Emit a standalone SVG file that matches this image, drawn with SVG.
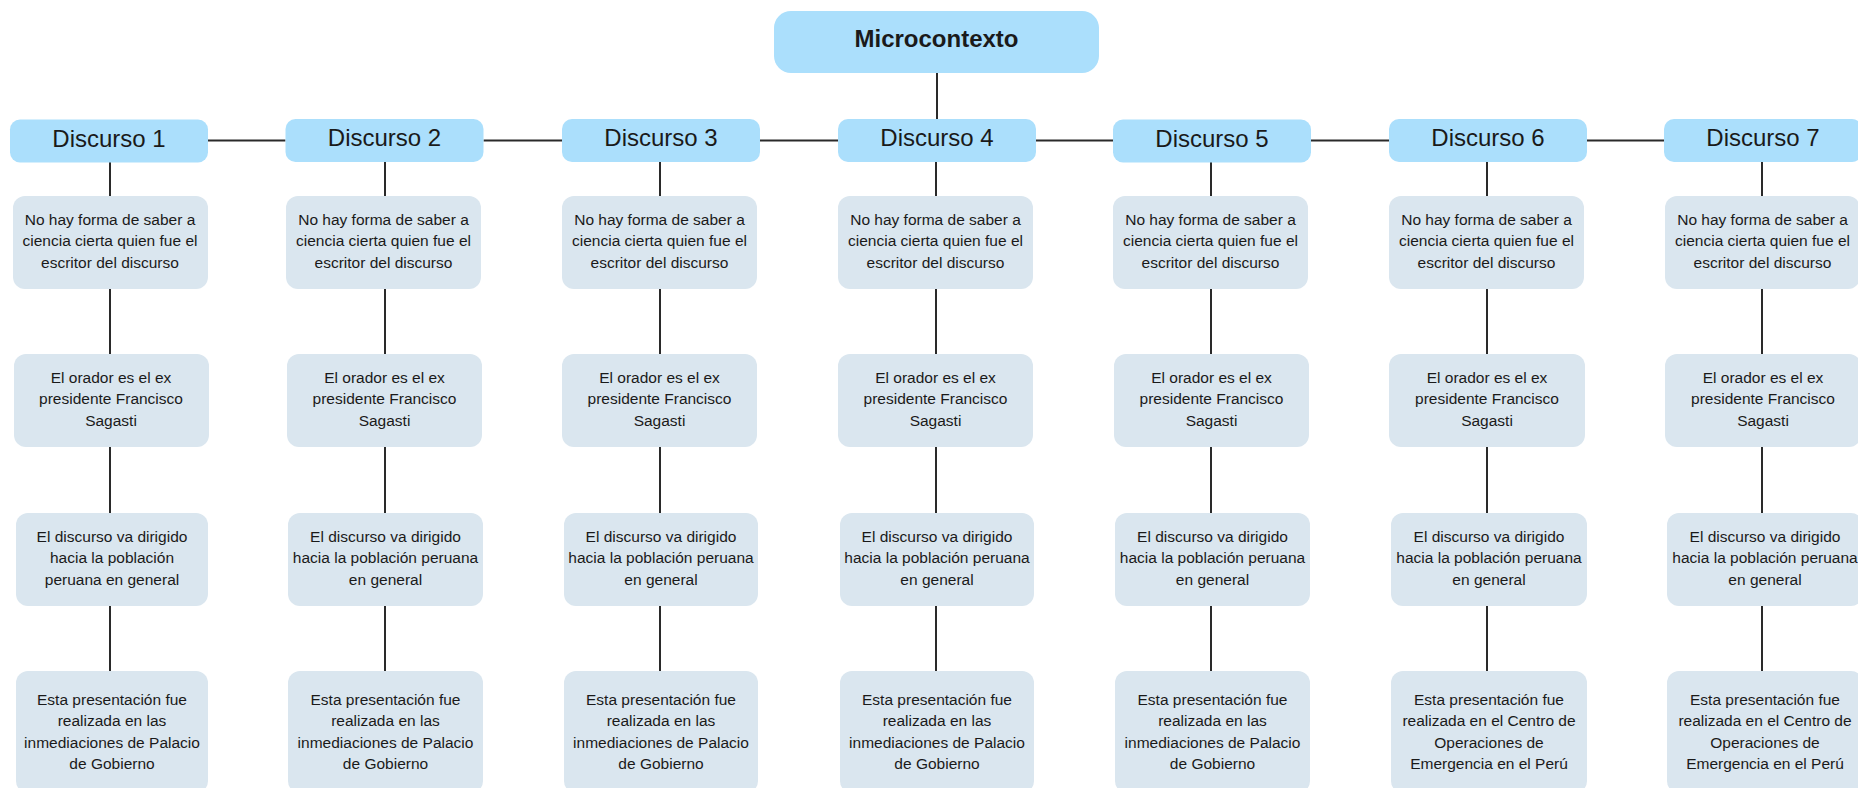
<svg xmlns="http://www.w3.org/2000/svg" width="1858" height="788" viewBox="0 0 1858 788">
<style>
.hd{fill:#abdffc;}
.bx{fill:#dae6ef;}
.t{font-family:"Liberation Sans",Arial,sans-serif;fill:#1a1a1a;text-anchor:middle;}
.h{font-size:24px;}
.m{font-size:24px;font-weight:bold;}
.s{font-size:15.5px;}
.c line{stroke:#2a2a2a;stroke-width:2;}
</style>
<rect width="1858" height="788" fill="#ffffff"/>
<g class="c" id="connectors">
<line x1="937" y1="73" x2="937" y2="119"/>
<line x1="208" y1="140.5" x2="285.5" y2="140.5"/>
<line x1="483.5" y1="140.5" x2="562" y2="140.5"/>
<line x1="760" y1="140.5" x2="838" y2="140.5"/>
<line x1="1036" y1="140.5" x2="1113" y2="140.5"/>
<line x1="1311" y1="140.5" x2="1389" y2="140.5"/>
<line x1="1587" y1="140.5" x2="1664" y2="140.5"/>
<line x1="110" y1="162" x2="110" y2="671"/>
<line x1="385" y1="162" x2="385" y2="671"/>
<line x1="660" y1="162" x2="660" y2="671"/>
<line x1="936" y1="162" x2="936" y2="671"/>
<line x1="1211" y1="162" x2="1211" y2="671"/>
<line x1="1487" y1="162" x2="1487" y2="671"/>
<line x1="1762" y1="162" x2="1762" y2="671"/>
</g>
<g id="micro"><rect class="hd" x="774" y="11" width="325" height="62" rx="17"/><text class="t m" x="936.5" y="47">Microcontexto</text></g>

<g id="d1"><rect class="hd" x="10" y="119.5" width="198" height="43" rx="10"/><text class="t h" x="109" y="146.5">Discurso 1</text></g>
<g id="d2"><rect class="hd" x="285.5" y="119" width="198" height="43" rx="10"/><text class="t h" x="384.5" y="146">Discurso 2</text></g>
<g id="d3"><rect class="hd" x="562" y="119" width="198" height="43" rx="10"/><text class="t h" x="661" y="146">Discurso 3</text></g>
<g id="d4"><rect class="hd" x="838" y="119" width="198" height="43" rx="10"/><text class="t h" x="937" y="146">Discurso 4</text></g>
<g id="d5"><rect class="hd" x="1113" y="119.5" width="198" height="43" rx="10"/><text class="t h" x="1212" y="146.5">Discurso 5</text></g>
<g id="d6"><rect class="hd" x="1389" y="119" width="198" height="43" rx="10"/><text class="t h" x="1488" y="146">Discurso 6</text></g>
<g id="d7"><rect class="hd" x="1664" y="119" width="198" height="43" rx="10"/><text class="t h" x="1763" y="146">Discurso 7</text></g>

<g id="a1"><rect class="bx" x="13" y="196" width="195" height="93" rx="12"/><text class="t s"><tspan x="110" y="224.5">No hay forma de saber a</tspan><tspan x="110" y="246">ciencia cierta quien fue el</tspan><tspan x="110" y="267.5">escritor del discurso</tspan></text></g>
<g id="a2"><rect class="bx" x="286" y="196" width="195" height="93" rx="12"/><text class="t s"><tspan x="383.5" y="224.5">No hay forma de saber a</tspan><tspan x="383.5" y="246">ciencia cierta quien fue el</tspan><tspan x="383.5" y="267.5">escritor del discurso</tspan></text></g>
<g id="a3"><rect class="bx" x="562" y="196" width="195" height="93" rx="12"/><text class="t s"><tspan x="659.5" y="224.5">No hay forma de saber a</tspan><tspan x="659.5" y="246">ciencia cierta quien fue el</tspan><tspan x="659.5" y="267.5">escritor del discurso</tspan></text></g>
<g id="a4"><rect class="bx" x="838" y="196" width="195" height="93" rx="12"/><text class="t s"><tspan x="935.5" y="224.5">No hay forma de saber a</tspan><tspan x="935.5" y="246">ciencia cierta quien fue el</tspan><tspan x="935.5" y="267.5">escritor del discurso</tspan></text></g>
<g id="a5"><rect class="bx" x="1113" y="196" width="195" height="93" rx="12"/><text class="t s"><tspan x="1210.5" y="224.5">No hay forma de saber a</tspan><tspan x="1210.5" y="246">ciencia cierta quien fue el</tspan><tspan x="1210.5" y="267.5">escritor del discurso</tspan></text></g>
<g id="a6"><rect class="bx" x="1389" y="196" width="195" height="93" rx="12"/><text class="t s"><tspan x="1486.5" y="224.5">No hay forma de saber a</tspan><tspan x="1486.5" y="246">ciencia cierta quien fue el</tspan><tspan x="1486.5" y="267.5">escritor del discurso</tspan></text></g>
<g id="a7"><rect class="bx" x="1665" y="196" width="195" height="93" rx="12"/><text class="t s"><tspan x="1762.5" y="224.5">No hay forma de saber a</tspan><tspan x="1762.5" y="246">ciencia cierta quien fue el</tspan><tspan x="1762.5" y="267.5">escritor del discurso</tspan></text></g>

<g id="b1"><rect class="bx" x="14" y="354" width="195" height="93" rx="12"/><text class="t s"><tspan x="111" y="382.5">El orador es el ex</tspan><tspan x="111" y="404">presidente Francisco</tspan><tspan x="111" y="425.5">Sagasti</tspan></text></g>
<g id="b2"><rect class="bx" x="287" y="354" width="195" height="93" rx="12"/><text class="t s"><tspan x="384.5" y="382.5">El orador es el ex</tspan><tspan x="384.5" y="404">presidente Francisco</tspan><tspan x="384.5" y="425.5">Sagasti</tspan></text></g>
<g id="b3"><rect class="bx" x="562" y="354" width="195" height="93" rx="12"/><text class="t s"><tspan x="659.5" y="382.5">El orador es el ex</tspan><tspan x="659.5" y="404">presidente Francisco</tspan><tspan x="659.5" y="425.5">Sagasti</tspan></text></g>
<g id="b4"><rect class="bx" x="838" y="354" width="195" height="93" rx="12"/><text class="t s"><tspan x="935.5" y="382.5">El orador es el ex</tspan><tspan x="935.5" y="404">presidente Francisco</tspan><tspan x="935.5" y="425.5">Sagasti</tspan></text></g>
<g id="b5"><rect class="bx" x="1114" y="354" width="195" height="93" rx="12"/><text class="t s"><tspan x="1211.5" y="382.5">El orador es el ex</tspan><tspan x="1211.5" y="404">presidente Francisco</tspan><tspan x="1211.5" y="425.5">Sagasti</tspan></text></g>
<g id="b6"><rect class="bx" x="1389" y="354" width="196" height="93" rx="12"/><text class="t s"><tspan x="1487" y="382.5">El orador es el ex</tspan><tspan x="1487" y="404">presidente Francisco</tspan><tspan x="1487" y="425.5">Sagasti</tspan></text></g>
<g id="b7"><rect class="bx" x="1665" y="354" width="196" height="93" rx="12"/><text class="t s"><tspan x="1763" y="382.5">El orador es el ex</tspan><tspan x="1763" y="404">presidente Francisco</tspan><tspan x="1763" y="425.5">Sagasti</tspan></text></g>

<g id="c1"><rect class="bx" x="16" y="513" width="192" height="93" rx="12"/><text class="t s"><tspan x="112" y="541.5">El discurso va dirigido</tspan><tspan x="112" y="563">hacia la población</tspan><tspan x="112" y="584.5">peruana en general</tspan></text></g>
<g id="c2"><rect class="bx" x="288" y="513" width="195" height="93" rx="12"/><text class="t s"><tspan x="385.5" y="541.5">El discurso va dirigido</tspan><tspan x="385.5" y="563">hacia la población peruana</tspan><tspan x="385.5" y="584.5">en general</tspan></text></g>
<g id="c3"><rect class="bx" x="564" y="513" width="194" height="93" rx="12"/><text class="t s"><tspan x="661" y="541.5">El discurso va dirigido</tspan><tspan x="661" y="563">hacia la población peruana</tspan><tspan x="661" y="584.5">en general</tspan></text></g>
<g id="c4"><rect class="bx" x="840" y="513" width="194" height="93" rx="12"/><text class="t s"><tspan x="937" y="541.5">El discurso va dirigido</tspan><tspan x="937" y="563">hacia la población peruana</tspan><tspan x="937" y="584.5">en general</tspan></text></g>
<g id="c5"><rect class="bx" x="1115" y="513" width="195" height="93" rx="12"/><text class="t s"><tspan x="1212.5" y="541.5">El discurso va dirigido</tspan><tspan x="1212.5" y="563">hacia la población peruana</tspan><tspan x="1212.5" y="584.5">en general</tspan></text></g>
<g id="c6"><rect class="bx" x="1391" y="513" width="196" height="93" rx="12"/><text class="t s"><tspan x="1489" y="541.5">El discurso va dirigido</tspan><tspan x="1489" y="563">hacia la población peruana</tspan><tspan x="1489" y="584.5">en general</tspan></text></g>
<g id="c7"><rect class="bx" x="1667" y="513" width="196" height="93" rx="12"/><text class="t s"><tspan x="1765" y="541.5">El discurso va dirigido</tspan><tspan x="1765" y="563">hacia la población peruana</tspan><tspan x="1765" y="584.5">en general</tspan></text></g>

<g id="e1"><rect class="bx" x="16" y="671" width="192" height="122" rx="12"/><text class="t s"><tspan x="112" y="704.5">Esta presentación fue</tspan><tspan x="112" y="726">realizada en las</tspan><tspan x="112" y="747.5">inmediaciones de Palacio</tspan><tspan x="112" y="769">de Gobierno</tspan></text></g>
<g id="e2"><rect class="bx" x="288" y="671" width="195" height="122" rx="12"/><text class="t s"><tspan x="385.5" y="704.5">Esta presentación fue</tspan><tspan x="385.5" y="726">realizada en las</tspan><tspan x="385.5" y="747.5">inmediaciones de Palacio</tspan><tspan x="385.5" y="769">de Gobierno</tspan></text></g>
<g id="e3"><rect class="bx" x="564" y="671" width="194" height="122" rx="12"/><text class="t s"><tspan x="661" y="704.5">Esta presentación fue</tspan><tspan x="661" y="726">realizada en las</tspan><tspan x="661" y="747.5">inmediaciones de Palacio</tspan><tspan x="661" y="769">de Gobierno</tspan></text></g>
<g id="e4"><rect class="bx" x="840" y="671" width="194" height="122" rx="12"/><text class="t s"><tspan x="937" y="704.5">Esta presentación fue</tspan><tspan x="937" y="726">realizada en las</tspan><tspan x="937" y="747.5">inmediaciones de Palacio</tspan><tspan x="937" y="769">de Gobierno</tspan></text></g>
<g id="e5"><rect class="bx" x="1115" y="671" width="195" height="122" rx="12"/><text class="t s"><tspan x="1212.5" y="704.5">Esta presentación fue</tspan><tspan x="1212.5" y="726">realizada en las</tspan><tspan x="1212.5" y="747.5">inmediaciones de Palacio</tspan><tspan x="1212.5" y="769">de Gobierno</tspan></text></g>
<g id="e6"><rect class="bx" x="1391" y="671" width="196" height="122" rx="12"/><text class="t s"><tspan x="1489" y="704.5">Esta presentación fue</tspan><tspan x="1489" y="726">realizada en el Centro de</tspan><tspan x="1489" y="747.5">Operaciones de</tspan><tspan x="1489" y="769">Emergencia en el Perú</tspan></text></g>
<g id="e7"><rect class="bx" x="1667" y="671" width="196" height="122" rx="12"/><text class="t s"><tspan x="1765" y="704.5">Esta presentación fue</tspan><tspan x="1765" y="726">realizada en el Centro de</tspan><tspan x="1765" y="747.5">Operaciones de</tspan><tspan x="1765" y="769">Emergencia en el Perú</tspan></text></g>
</svg>
